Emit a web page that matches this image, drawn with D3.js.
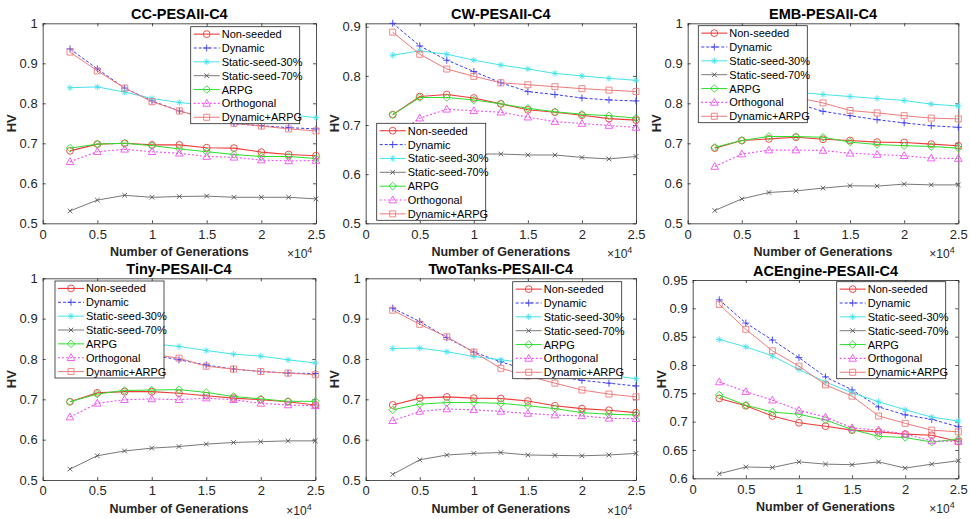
<!DOCTYPE html>
<html>
<head>
<meta charset="utf-8">
<script src="https://cdn.jsdelivr.net/npm/d3@7"></script>
<style>
  body { margin: 0; background: #fff; }
  svg { display: block; font-family: "Liberation Sans", Arial, sans-serif; }
</style>
</head>
<body>
<svg id="chart" width="970" height="519"></svg>
<script>
// x values (number of generations)
const generations = [2500, 5000, 7500, 10000, 12500, 15000, 17500, 20000, 22500, 25000];
const seriesNames = ["Non-seeded", "Dynamic", "Static-seed-30%", "Static-seed-70%", "ARPG", "Orthogonal", "Dynamic+ARPG"];
const xTickValues = [0, 5000, 10000, 15000, 20000, 25000];

// HV values, one row per series (same order as seriesNames)
const ccHV = [
  [0.681, 0.698, 0.700, 0.696, 0.696, 0.689, 0.688, 0.678, 0.672, 0.669],
  [0.936, 0.886, 0.838, 0.806, 0.781, 0.762, 0.749, 0.744, 0.739, 0.736],
  [0.839, 0.841, 0.828, 0.812, 0.802, 0.795, 0.787, 0.780, 0.772, 0.764],
  [0.531, 0.558, 0.570, 0.565, 0.567, 0.568, 0.565, 0.565, 0.565, 0.561],
  [0.688, 0.698, 0.700, 0.694, 0.686, 0.679, 0.672, 0.667, 0.667, 0.662],
  [0.654, 0.679, 0.685, 0.679, 0.675, 0.667, 0.665, 0.658, 0.656, 0.657],
  [0.928, 0.881, 0.838, 0.804, 0.781, 0.762, 0.750, 0.743, 0.736, 0.731]
];
const cwHV = [
  [0.721, 0.758, 0.762, 0.755, 0.743, 0.731, 0.726, 0.720, 0.713, 0.710],
  [0.907, 0.861, 0.832, 0.809, 0.786, 0.768, 0.762, 0.755, 0.751, 0.749],
  [0.842, 0.851, 0.844, 0.832, 0.822, 0.814, 0.805, 0.800, 0.795, 0.791],
  [0.600, 0.628, 0.638, 0.641, 0.641, 0.639, 0.639, 0.634, 0.631, 0.636],
  [0.721, 0.756, 0.756, 0.751, 0.743, 0.734, 0.727, 0.722, 0.719, 0.714],
  [0.675, 0.714, 0.732, 0.729, 0.726, 0.716, 0.707, 0.703, 0.699, 0.695],
  [0.889, 0.844, 0.814, 0.799, 0.786, 0.782, 0.778, 0.774, 0.771, 0.768]
];
const embHV = [
  [0.688, 0.707, 0.711, 0.715, 0.710, 0.707, 0.703, 0.702, 0.698, 0.694],
  [0.930, 0.885, 0.840, 0.800, 0.780, 0.769, 0.759, 0.751, 0.744, 0.740],
  [0.835, 0.840, 0.835, 0.828, 0.822, 0.817, 0.812, 0.807, 0.798, 0.793],
  [0.532, 0.561, 0.577, 0.581, 0.588, 0.594, 0.593, 0.598, 0.596, 0.596],
  [0.690, 0.707, 0.717, 0.717, 0.715, 0.703, 0.697, 0.694, 0.692, 0.688],
  [0.642, 0.673, 0.683, 0.683, 0.682, 0.675, 0.672, 0.669, 0.663, 0.662],
  [0.920, 0.875, 0.840, 0.815, 0.801, 0.782, 0.776, 0.769, 0.763, 0.761]
];
const tinyHV = [
  [0.694, 0.716, 0.719, 0.719, 0.715, 0.709, 0.703, 0.699, 0.694, 0.686],
  [0.920, 0.880, 0.840, 0.810, 0.798, 0.785, 0.775, 0.769, 0.765, 0.764],
  [0.840, 0.845, 0.842, 0.838, 0.831, 0.821, 0.812, 0.807, 0.798, 0.790],
  [0.527, 0.560, 0.572, 0.579, 0.583, 0.589, 0.593, 0.595, 0.597, 0.597],
  [0.694, 0.713, 0.722, 0.723, 0.724, 0.717, 0.707, 0.701, 0.695, 0.695],
  [0.656, 0.690, 0.699, 0.701, 0.699, 0.703, 0.699, 0.690, 0.686, 0.684],
  [0.920, 0.875, 0.838, 0.812, 0.802, 0.782, 0.775, 0.769, 0.765, 0.761]
];
const twoTanksHV = [
  [0.686, 0.703, 0.706, 0.703, 0.702, 0.696, 0.684, 0.677, 0.673, 0.667],
  [0.926, 0.893, 0.853, 0.817, 0.793, 0.772, 0.758, 0.747, 0.740, 0.733],
  [0.826, 0.827, 0.818, 0.806, 0.798, 0.790, 0.780, 0.770, 0.760, 0.751],
  [0.514, 0.550, 0.562, 0.566, 0.568, 0.562, 0.561, 0.560, 0.562, 0.566],
  [0.674, 0.688, 0.692, 0.692, 0.690, 0.684, 0.677, 0.667, 0.663, 0.661],
  [0.647, 0.670, 0.676, 0.674, 0.670, 0.665, 0.661, 0.659, 0.653, 0.652],
  [0.921, 0.886, 0.855, 0.817, 0.777, 0.758, 0.740, 0.723, 0.713, 0.706]
];
const acEngineHV = [
  [0.741, 0.728, 0.710, 0.698, 0.692, 0.685, 0.682, 0.678, 0.676, 0.665],
  [0.915, 0.874, 0.844, 0.813, 0.779, 0.756, 0.726, 0.712, 0.704, 0.691],
  [0.845, 0.832, 0.816, 0.792, 0.770, 0.751, 0.735, 0.721, 0.708, 0.701],
  [0.608, 0.620, 0.619, 0.629, 0.625, 0.624, 0.629, 0.618, 0.625, 0.631],
  [0.747, 0.729, 0.717, 0.713, 0.703, 0.686, 0.674, 0.672, 0.664, 0.669],
  [0.770, 0.753, 0.738, 0.720, 0.708, 0.689, 0.685, 0.678, 0.666, 0.665],
  [0.907, 0.863, 0.825, 0.798, 0.765, 0.745, 0.710, 0.697, 0.685, 0.682]
];

const styles = [
  {color: "#ee3b3b", dash: null,  marker: "circle",   width: 1.1},
  {color: "#3b3bf5", dash: "3,2", marker: "plus",     width: 1},
  {color: "#45e3ec", dash: null,  marker: "star",     width: 1},
  {color: "#555555", dash: null,  marker: "x",        width: 0.8},
  {color: "#2ede2e", dash: null,  marker: "diamond",  width: 1},
  {color: "#f050f0", dash: "2,2", marker: "triangle", width: 1.1},
  {color: "#ef7b7b", dash: null,  marker: "square",   width: 1}
];

const markerPaths = {
  circle: "M3.4,0A3.4,3.4 0 1,1 -3.4,0A3.4,3.4 0 1,1 3.4,0Z",
  plus: "M-3.5,0H3.5M0,-3.5V3.5",
  x: "M-2.3,-2.3L2.3,2.3M-2.3,2.3L2.3,-2.3",
  star: "M-3.2,0H3.2M0,-3.2V3.2M-2.3,-2.3L2.3,2.3M-2.3,2.3L2.3,-2.3",
  diamond: "M0,-3.8L3.8,0L0,3.8L-3.8,0Z",
  triangle: "M0,-4L3.8,2.8H-3.8Z",
  square: "M-3,-3H3V3H-3Z"
};

const panels = [
  {title: "CC-PESAII-C4", data: ccHV, y: [0.5, 1], ticks: [0.5, 0.6, 0.7, 0.8, 0.9, 1],
   box: [42.7, 316, 23.3, 223.3], legend: [190.7, 26.7]},
  {title: "CW-PESAII-C4", data: cwHV, y: [0.5, 0.907], ticks: [0.5, 0.6, 0.7, 0.8, 0.9],
   box: [365.7, 636, 23.3, 223.3], legend: [376.7, 123.3]},
  {title: "EMB-PESAII-C4", data: embHV, y: [0.5, 1], ticks: [0.5, 0.6, 0.7, 0.8, 0.9, 1],
   box: [687.7, 958.3, 23.3, 223.3], legend: [698.3, 25.7]},
  {title: "Tiny-PESAII-C4", data: tinyHV, y: [0.5, 1], ticks: [0.5, 0.6, 0.7, 0.8, 0.9, 1],
   box: [42.7, 315.3, 278.3, 480], legend: [55, 281]},
  {title: "TwoTanks-PESAII-C4", data: twoTanksHV, y: [0.5, 1], ticks: [0.5, 0.6, 0.7, 0.8, 0.9, 1],
   box: [365.7, 636, 278.3, 480], legend: [512.7, 281.7]},
  {title: "ACEngine-PESAII-C4", data: acEngineHV, y: [0.6, 0.95], ticks: [0.6, 0.65, 0.7, 0.75, 0.8, 0.85, 0.9, 0.95],
   box: [692.7, 958.3, 280, 478.3], legend: [836.7, 281.7]}
];

const svg = d3.select("#chart");
const axisColor = "#262626";
const fmt = d => String(+d.toFixed(2));

panels.forEach(p => {
  const [x0, x1, y0, y1] = p.box;
  const x = d3.scaleLinear().domain([0, 25000]).range([x0, x1]);
  const y = d3.scaleLinear().domain(p.y).range([y1, y0]);
  const g = svg.append("g");

  // axes, ticks point inward, mirrored on top/right
  const left = g.append("g").attr("transform", `translate(${x0},0)`)
    .call(d3.axisLeft(y).tickValues(p.ticks).tickFormat(fmt).tickSizeInner(-3).tickSizeOuter(0).tickPadding(5));
  const bottom = g.append("g").attr("transform", `translate(0,${y1})`)
    .call(d3.axisBottom(x).tickValues(xTickValues).tickFormat(d => fmt(d / 1e4)).tickSizeInner(-3).tickSizeOuter(0).tickPadding(6));
  g.append("g").attr("transform", `translate(${x1},0)`)
    .call(d3.axisRight(y).tickValues(p.ticks).tickFormat("").tickSizeInner(-3).tickSizeOuter(0));
  g.append("g").attr("transform", `translate(0,${y0})`)
    .call(d3.axisTop(x).tickValues(xTickValues).tickFormat("").tickSizeInner(-3).tickSizeOuter(0));
  g.selectAll(".domain, .tick line").attr("stroke", axisColor).attr("stroke-width", 0.8);
  g.selectAll(".tick text").attr("fill", axisColor).attr("font-size", 13)
    .attr("font-family", "Liberation Sans, Arial, sans-serif");

  // series
  const line = d3.line().x((d, i) => x(generations[i])).y(d => y(d));
  p.data.forEach((vals, si) => {
    const st = styles[si];
    g.append("path").attr("d", line(vals)).attr("fill", "none")
      .attr("stroke", st.color).attr("stroke-width", st.width)
      .attr("stroke-dasharray", st.dash);
    g.selectAll(null).data(vals).enter().append("path")
      .attr("transform", (d, i) => `translate(${x(generations[i])},${y(d)})`)
      .attr("d", markerPaths[st.marker]).attr("fill", "none")
      .attr("stroke", st.color).attr("stroke-width", 0.9);
  });

  // title and labels
  g.append("text").attr("x", (x0 + x1) / 2).attr("y", y0 - 4.5)
    .attr("text-anchor", "middle").attr("font-weight", "bold").attr("font-size", 14.5)
    .attr("fill", "#000").text(p.title);
  g.append("text").attr("x", (x0 + x1) / 2).attr("y", y1 + 33)
    .attr("text-anchor", "middle").attr("font-weight", "bold").attr("font-size", 12.5)
    .attr("fill", axisColor).text("Number of Generations");
  g.append("text").attr("transform", `translate(${x0 - 27},${(y0 + y1) / 2}) rotate(-90)`)
    .attr("text-anchor", "middle").attr("font-weight", "bold").attr("font-size", 13)
    .attr("fill", axisColor).text("HV");
  const ex = g.append("text").attr("x", x1 - 29).attr("y", y1 + 35)
    .attr("font-size", 12).attr("fill", axisColor);
  ex.append("tspan").text("\u00d710");
  ex.append("tspan").attr("dy", -5).attr("font-size", 9).text("4");

  // legend
  const [lx, ly] = p.legend;
  const lw = 109, lh = 97, rh = lh / 7;
  const lg = g.append("g").attr("transform", `translate(${lx},${ly})`);
  lg.append("rect").attr("width", lw).attr("height", lh)
    .attr("fill", "#fff").attr("stroke", axisColor).attr("stroke-width", 0.8);
  seriesNames.forEach((name, si) => {
    const st = styles[si];
    const cy = rh * (si + 0.5) + 0.5;
    lg.append("line").attr("x1", 3).attr("x2", 29).attr("y1", cy).attr("y2", cy)
      .attr("stroke", st.color).attr("stroke-width", st.width).attr("stroke-dasharray", st.dash);
    lg.append("path").attr("transform", `translate(16,${cy})`).attr("d", markerPaths[st.marker])
      .attr("fill", "none").attr("stroke", st.color).attr("stroke-width", 0.9);
    lg.append("text").attr("x", 31).attr("y", cy + 4).attr("font-size", 11)
      .attr("fill", "#000").text(name);
  });
});
</script>
</body>
</html>
